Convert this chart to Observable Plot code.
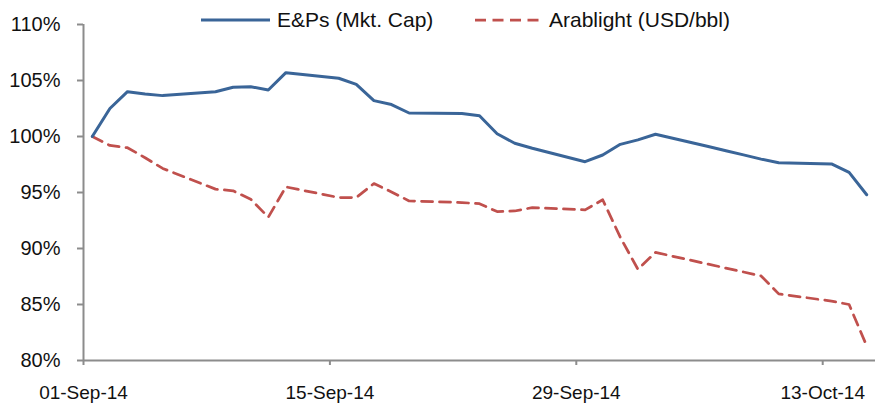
<!DOCTYPE html>
<html>
<head>
<meta charset="utf-8">
<script src="https://cdn.jsdelivr.net/npm/d3@7"></script>
<script src="https://cdn.jsdelivr.net/npm/@observablehq/plot@0.6"></script>
<style>
  html, body { margin: 0; padding: 0; background: #fff; }
  #wrap { position: relative; width: 875px; height: 404px; font-family: Arial, "Liberation Sans", sans-serif; }
  #legend { position: absolute; left: 0; top: 0; width: 875px; height: 40px; pointer-events: none; }
</style>
</head>
<body>
<div id="wrap"></div>
<script>
// Trading dates
const dates = [
  "2014-09-01","2014-09-02","2014-09-03","2014-09-04","2014-09-05",
  "2014-09-08","2014-09-09","2014-09-10","2014-09-11","2014-09-12",
  "2014-09-15","2014-09-16","2014-09-17","2014-09-18","2014-09-19",
  "2014-09-22","2014-09-23","2014-09-24","2014-09-25","2014-09-26",
  "2014-09-29","2014-09-30","2014-10-01","2014-10-02","2014-10-03",
  "2014-10-06","2014-10-07","2014-10-08","2014-10-09","2014-10-10",
  "2014-10-13","2014-10-14","2014-10-15"
];
// E&Ps (Mkt. Cap), indexed, %
const epsValues = [
  100.0, 102.5, 104.0, 103.8, 103.65,
  104.0, 104.4, 104.45, 104.15, 105.7,
  105.2, 104.65, 103.2, 102.85, 102.1,
  102.05, 101.85, 100.25, 99.4, 98.95,
  97.75, 98.35, 99.3, 99.7, 100.2,
  99.1, 98.73, 98.36, 97.98, 97.65,
  97.55, 96.8, 94.8
];
// Arablight (USD/bbl), indexed, %
const arabValues = [
  100.0, 99.2, 99.0, 98.1, 97.15,
  95.3, 95.15, 94.4, 92.8, 95.5,
  94.55, 94.55, 95.8, 95.05, 94.25,
  94.1, 94.0, 93.3, 93.35, 93.65,
  93.45, 94.35, 91.0, 88.15, 89.65,
  88.6, 88.25, 87.9, 87.55, 85.95,
  85.3, 85.0, 81.3
];
const seriesNames = ["E&Ps (Mkt. Cap)", "Arablight (USD/bbl)"];
const xTickDates = ["2014-09-01","2014-09-15","2014-09-29","2014-10-13"];
const xDomain = ["2014-09-01","2014-10-16"];
const yTicks = [80, 85, 90, 95, 100, 105, 110];

const toNoon = d => new Date(d + "T12:00:00Z");
const toDay = d => new Date(d + "T00:00:00Z");
const epsData = dates.map((d, i) => ({date: toNoon(d), v: epsValues[i]}));
const arabData = dates.map((d, i) => ({date: toNoon(d), v: arabValues[i]}));

const blue = "#3A6598";
const red = "#C0504D";
const axisGray = "#8C8C8C";

const chart = Plot.plot({
  width: 875,
  height: 404,
  marginLeft: 83,
  marginRight: 0,
  marginTop: 24,
  marginBottom: 44,
  style: {fontFamily: 'Arial, "Liberation Sans", sans-serif', background: "white", overflow: "visible", color: "#111"},
  x: {type: "utc", domain: xDomain.map(toDay)},
  y: {domain: [80, 110]},
  marks: [
    Plot.axisY({
      ticks: yTicks, tickFormat: d => d + "%", tickSize: 6, tickPadding: 17,
      fontSize: 20, stroke: axisGray, strokeWidth: 2, strokeOpacity: 1, label: null, fill: "#111"
    }),
    Plot.axisX({
      ticks: xTickDates.map(toDay), tickFormat: d3.utcFormat("%d-%b-%y"),
      tickSize: 5, tickPadding: 20, fontSize: 19, stroke: axisGray, strokeWidth: 2, strokeOpacity: 1,
      label: null, fill: "#111"
    }),
    Plot.ruleY([80], {stroke: axisGray, strokeWidth: 2}),
    Plot.ruleX([toDay(xDomain[0])], {stroke: axisGray, strokeWidth: 2}),
    Plot.lineY(arabData, {x: "date", y: "v", stroke: red, strokeWidth: 2.75, strokeDasharray: "11,7"}),
    Plot.lineY(epsData, {x: "date", y: "v", stroke: blue, strokeWidth: 3})
  ]
});

const wrap = document.getElementById("wrap");
wrap.appendChild(chart);

// Legend (overlay at the top)
const ns = "http://www.w3.org/2000/svg";
const leg = document.createElementNS(ns, "svg");
leg.setAttribute("id", "legend");
leg.setAttribute("width", 875);
leg.setAttribute("height", 40);
const items = [
  {name: seriesNames[0], x1: 201, x2: 270, tx: 277, stroke: blue, dash: null, sw: 3},
  {name: seriesNames[1], x1: 475, x2: 539, tx: 549, stroke: red, dash: "11,6.5", sw: 2.75}
];
for (const it of items) {
  const ln = document.createElementNS(ns, "line");
  ln.setAttribute("x1", it.x1); ln.setAttribute("x2", it.x2);
  ln.setAttribute("y1", 20); ln.setAttribute("y2", 20);
  ln.setAttribute("stroke", it.stroke); ln.setAttribute("stroke-width", it.sw);
  if (it.dash) ln.setAttribute("stroke-dasharray", it.dash);
  leg.appendChild(ln);
  const t = document.createElementNS(ns, "text");
  t.setAttribute("x", it.tx); t.setAttribute("y", 27);
  t.setAttribute("font-size", 21);
  t.setAttribute("font-family", 'Arial, "Liberation Sans", sans-serif');
  t.setAttribute("fill", "#111");
  t.textContent = it.name;
  leg.appendChild(t);
}
wrap.appendChild(leg);
</script>
</body>
</html>
